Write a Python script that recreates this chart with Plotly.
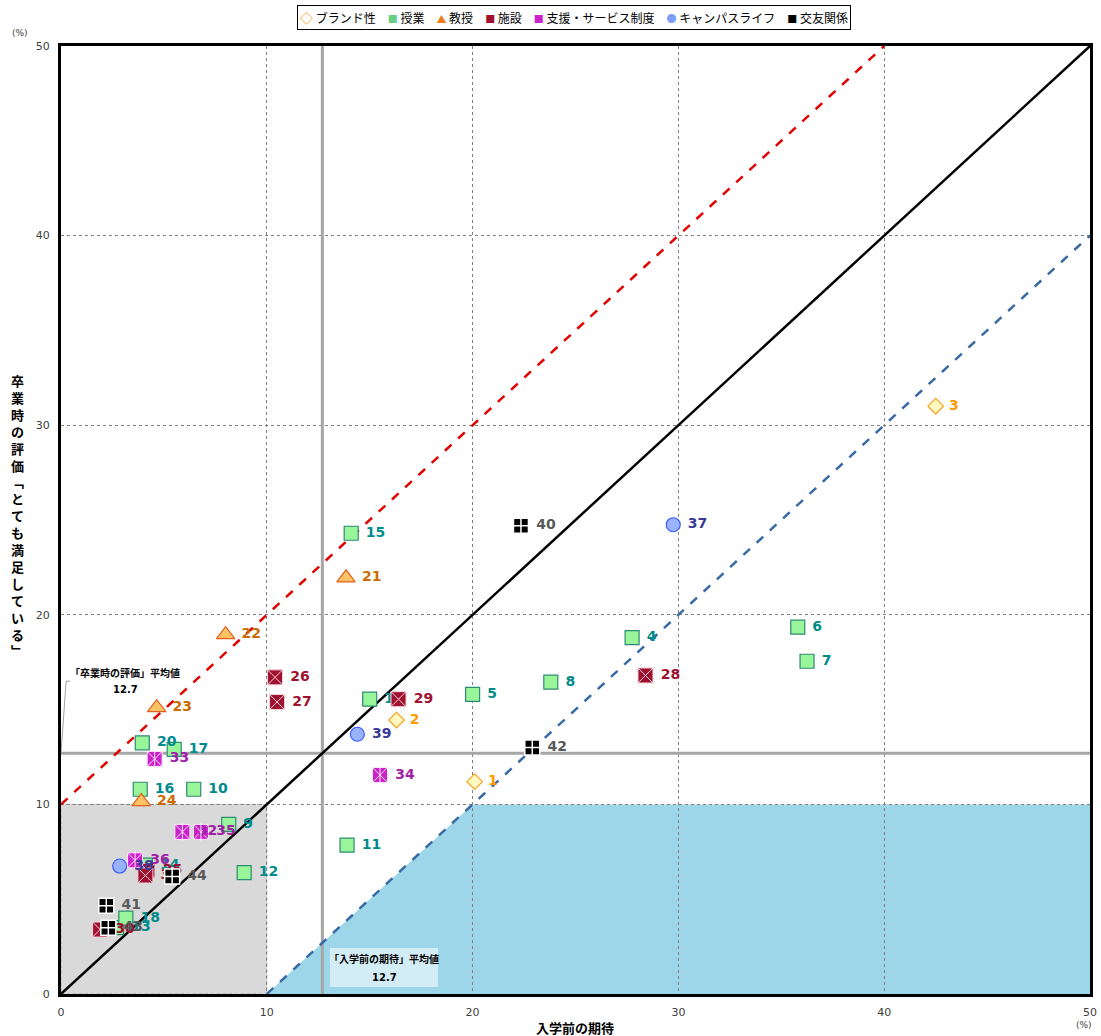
import plotly.graph_objects as go

# ---------------- data ----------------
brand_ids = [1, 2, 3]
brand_x = [20.1, 16.3, 42.5]
brand_y = [11.2, 14.45, 31.0]

jugyo_ids = [4, 5, 6, 7, 8, 9, 10, 11, 12, 13, 14, 15, 16, 17, 18, 19, 20]
jugyo_x = [27.75, 20.0, 35.8, 36.25, 23.8, 8.15, 6.45, 13.9, 8.9, 2.7, 4.1, 14.1, 3.85, 5.5, 3.15, 15.0, 3.95]
jugyo_y = [18.8, 15.8, 19.35, 17.55, 16.45, 8.95, 10.8, 7.85, 6.4, 3.5, 6.8, 24.3, 10.8, 12.9, 4.0, 15.55, 13.25]

kyoju_ids = [21, 22, 23, 24]
kyoju_x = [13.85, 8.0, 4.65, 3.9]
kyoju_y = [21.95, 18.95, 15.1, 10.15]

shisetsu_ids = [25, 26, 27, 28, 29, 30, 31]
shisetsu_x = [4.2, 10.4, 10.5, 28.4, 16.4, 1.9, 4.1]
shisetsu_y = [6.5, 16.7, 15.4, 16.8, 15.55, 3.4, 6.25]

shien_ids = [32, 33, 34, 35, 36]
shien_x = [5.9, 4.55, 15.5, 6.8, 3.6]
shien_y = [8.55, 12.4, 11.55, 8.55, 7.05]

campus_ids = [37, 38, 39]
campus_x = [29.75, 2.85, 14.4]
campus_y = [24.75, 6.75, 13.7]

koyu_ids = [40, 41, 42, 43, 44]
koyu_x = [22.35, 2.2, 22.9, 2.3, 5.4]
koyu_y = [24.7, 4.65, 13.0, 3.5, 6.2]

avg_expect = 12.7
avg_eval = 12.7
axis_ticks = [0, 10, 20, 30, 40, 50]

FONT = "Verdana, DejaVu Sans, Noto Sans CJK JP"
JP = "Noto Sans CJK JP, DejaVu Sans"

W, H = 1101, 1036
ML, MR, MT, MB = 61, 11, 46, 42
plot_h = H - MT - MB
plot_w = W - ML - MR


def px(xp):
    return (xp - ML) / plot_w


def py(yp):
    return (MT + plot_h - yp) / plot_h


fig = go.Figure()

series = [
    ("ブランド性", brand_ids, brand_x, brand_y, "diamond", 12, "#FFF8C0", "#F5A623", 1.2, "#FF9900", "◇", "#FF9900", 13),
    ("授業", jugyo_ids, jugyo_x, jugyo_y, "square", 14, "#99F599", "#2E8B73", 1.2, "#008B8B", "■", "#66D08A", 10),
    ("教授", kyoju_ids, kyoju_x, kyoju_y, "triangle-up", 16, "#FFC266", "#E0601A", 1.2, "#CC6A00", "▲", "#F07A1A", 10),
    ("施設", shisetsu_ids, shisetsu_x, shisetsu_y, "square-x", 15, "#A0102F", "#F3D3DB", 1.0, "#A0102F", "■", "#A0102F", 10),
    ("支援・サービス制度", shien_ids, shien_x, shien_y, "square-x", 15, "#CC22CC", "#FFE6FF", 1.0, "#A020A8", "■", "#CC22CC", 10),
    ("キャンパスライフ", campus_ids, campus_x, campus_y, "circle", 14, "#99B3FF", "#3B5BFF", 1.2, "#3A3A96", "●", "#7F9CFF", 10),
    ("交友関係", koyu_ids, koyu_x, koyu_y, "square-cross", 15, "#000000", "#FFFFFF", 1.5, "#595959", "■", "#000000", 10),
]

legend_parts = []
for name, ids, xs, ys, sym, size, fill, line, lw, tcol, icon, icol, isz in series:
    fig.add_trace(go.Scatter(
        x=xs, y=ys, mode="markers+text", name=name, showlegend=False,
        text=["\u00a0" + str(i) for i in ids], textposition="middle right",
        textfont=dict(family=FONT, size=14, color=tcol, weight="bold"),
        marker=dict(symbol=sym, size=size, color=fill, line=dict(color=line, width=lw)),
        hoverinfo="skip",
    ))
    if name == "支援・サービス制度":
        fig.add_trace(go.Scatter(
            x=xs, y=ys, mode="markers", showlegend=False, hoverinfo="skip",
            marker=dict(symbol="line-ns", size=13, color="#FFE6FF",
                        line=dict(color="#FFE6FF", width=1)),
        ))
    legend_parts.append(
        f'<span style="color:{icol};font-size:{isz}px">{icon}</span>\u00a0{name}'
    )

legend_text = "\u3000".join(legend_parts)

# ---------------- shapes ----------------
shapes = []
shapes.append(dict(type="rect", xref="x", yref="y", x0=0, y0=0, x1=10, y1=10,
                   fillcolor="#D9D9D9", line=dict(color="#A0A0A0", width=1, dash="dot"),
                   layer="below"))
shapes.append(dict(type="path", xref="x", yref="y", path="M 10 0 L 20 10 L 50 10 L 50 0 Z",
                   fillcolor="#9DD5E9", line=dict(width=0), layer="below"))
shapes.append(dict(type="line", xref="x", yref="y", x0=avg_expect, x1=avg_expect, y0=0, y1=50,
                   line=dict(color="#A6A6A6", width=3), layer="between"))
shapes.append(dict(type="line", xref="x", yref="y", x0=0, x1=50, y0=avg_eval, y1=avg_eval,
                   line=dict(color="#A6A6A6", width=3), layer="between"))
shapes.append(dict(type="line", xref="x", yref="y", x0=0, y0=10, x1=40, y1=50,
                   line=dict(color="#E00000", width=2.5, dash="dash"), layer="between"))
shapes.append(dict(type="line", xref="x", yref="y", x0=10, y0=0, x1=50, y1=40,
                   line=dict(color="#3A6AA5", width=2.5, dash="dash"), layer="between"))
shapes.append(dict(type="line", xref="x", yref="y", x0=0, y0=0, x1=50, y1=50,
                   line=dict(color="#000000", width=2.5), layer="between"))
shapes.append(dict(type="path", xref="x", yref="y",
                   path=f"M 0.45 16.5 L 0.25 16.5 L 0 {avg_eval}",
                   line=dict(color="#A0A0A0", width=1), layer="between"))
shapes.append(dict(type="rect", xref="paper", yref="paper",
                   x0=px(330), x1=px(438), y0=py(987), y1=py(948),
                   fillcolor="#D3EDF6", line=dict(width=0), layer="above"))


def ann(xp, yp, text, font, **kw):
    d = dict(x=px(xp), y=py(yp), xref="paper", yref="paper", showarrow=False,
             text=text, xanchor="center", yanchor="middle", font=font)
    d.update(kw)
    return d


bold10jp = dict(family=JP, size=10, color="#000000", weight="bold")
bold10 = dict(family=FONT, size=10, color="#000000", weight="bold")
title13 = dict(family=JP, size=13, color="#000000", weight="bold")
pct9 = dict(family=FONT, size=9, color="#404040")

annotations = [
    ann(125, 672, "「卒業時の評価」平均値", bold10jp),
    ann(125, 690, f"{avg_eval}", bold10),
    ann(384, 958, "「入学前の期待」平均値", bold10jp),
    ann(384, 977, f"{avg_expect}", bold10),
    ann(17, 515, "<br>".join(list("卒業時の評価﹁とても満足している﹂")), title13),
    ann(575, 1027, "入学前の期待", title13),
    ann(20, 33, "(%)", pct9),
    ann(1084, 1025, "(%)", pct9),
    ann(574, 18, legend_text, dict(family=JP, size=12, color="#000000"),
        bordercolor="#000000", borderwidth=1, borderpad=2, bgcolor="#FFFFFF"),
]

fig.update_layout(
    width=W, height=H,
    margin=dict(l=ML, r=MR, t=MT, b=MB, autoexpand=False),
    plot_bgcolor="#FFFFFF", paper_bgcolor="#FFFFFF",
    shapes=shapes, annotations=annotations, showlegend=False,
    font=dict(family=FONT, color="#404040"),
)
fig.update_xaxes(range=[0, 50], tickvals=axis_ticks, showgrid=True, gridcolor="#808080",
                 griddash="dot", gridwidth=1, zeroline=False, showline=True, mirror=True,
                 linecolor="#000000", linewidth=3, ticks="", tickfont=dict(size=11, color="#404040"),
                 ticklabelstandoff=6)
fig.update_yaxes(range=[0, 50], tickvals=axis_ticks, showgrid=True, gridcolor="#808080",
                 griddash="dot", gridwidth=1, zeroline=False, showline=True, mirror=True,
                 linecolor="#000000", linewidth=3, ticks="", tickfont=dict(size=11, color="#404040"),
                 ticklabelstandoff=6)

fig.write_html("out.html", config={"displayModeBar": False},
               post_script="document.body.style.margin='0';document.body.style.overflow='hidden';")
